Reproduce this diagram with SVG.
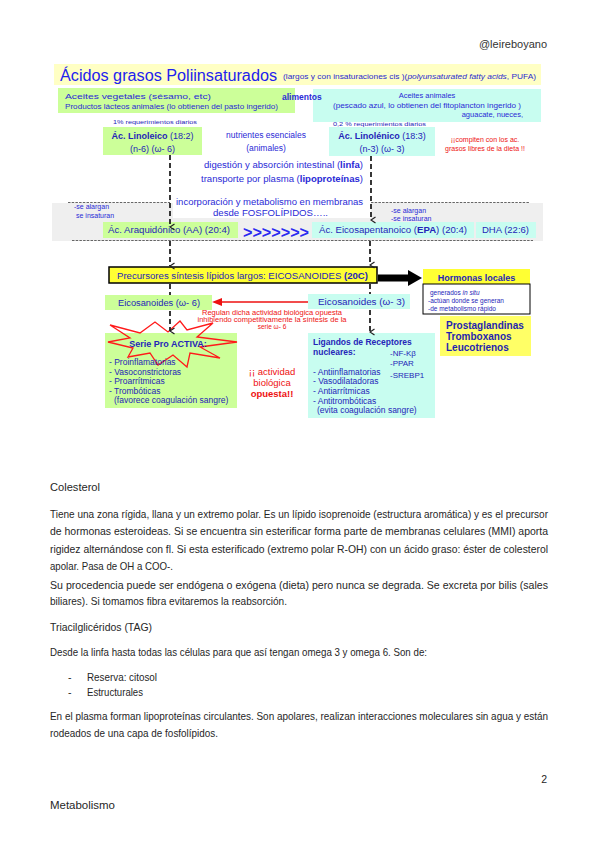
<svg xmlns="http://www.w3.org/2000/svg" width="599" height="848" viewBox="0 0 599 848">
<style>
.d{font-family:"Liberation Sans",Arial,sans-serif}
.b{fill:#2a2ad6}
.nv{fill:#2525b8}
.rd{fill:#ee1111}
.g{fill:#ccff99}
.c{fill:#c8fdf0}
.y{fill:#ffff33}
.doc{font-family:"Liberation Sans",Arial,sans-serif;fill:#262626;font-size:10.5px}
.bold{font-weight:bold}
.vd{stroke:#222;stroke-width:1.8;stroke-dasharray:5,3;fill:none}
.hd{stroke:#666;stroke-width:1;stroke-dasharray:2.5,1.2;fill:none}
</style>
<defs>
<marker id="v" viewBox="0 0 10 8" refX="5" refY="7" markerWidth="8" markerHeight="6" markerUnits="userSpaceOnUse" orient="auto-start-reverse">
<path d="M1,1 L5,7 L9,1" fill="none" stroke="#222" stroke-width="1.6"/>
</marker>
</defs>
<rect width="599" height="848" fill="#fff"/>

<text class="d" x="547" y="48" font-size="11" fill="#333" text-anchor="end">@leireboyano</text>

<g id="title">
<rect x="54" y="64" width="487" height="21" fill="#ffffc4"/>
<text class="d" x="60" y="81" font-size="16" fill="#2222ee" textLength="217" lengthAdjust="spacingAndGlyphs">Ácidos grasos Poliinsaturados</text>
<text class="d" x="283" y="79" font-size="7" fill="#2a2ad0" textLength="253" lengthAdjust="spacingAndGlyphs">(largos y con insaturaciones cis )(<tspan font-style="italic">polyunsaturated fatty acids</tspan>, PUFA)</text>
</g>

<g id="gray-band">
<rect x="52" y="203" width="491" height="38" fill="#efefef"/>
<rect x="173" y="190" width="198" height="28" fill="#ffffff"/>
</g>

<g id="veg">
<rect class="g" x="58" y="88" width="237" height="25"/>
<text class="d b" x="65" y="98.5" font-size="7.5" textLength="146" lengthAdjust="spacingAndGlyphs">Aceites vegetales (sésamo, etc)</text>
<text class="d b" x="65" y="108.5" font-size="7.5" textLength="213" lengthAdjust="spacingAndGlyphs">Productos lácteos animales (lo obtienen del pasto ingerido)</text>
</g>

<g id="animal">
<rect class="c" x="313" y="89" width="228" height="33"/>
<text class="d b" x="427" y="97.5" font-size="7.5" text-anchor="middle">Aceites animales</text>
<text class="d b" x="427" y="107.5" font-size="7.5" text-anchor="middle" textLength="188" lengthAdjust="spacingAndGlyphs">(pescado azul, lo obtienen del fitoplancton ingerido )</text>
<text class="d b" x="523" y="116.5" font-size="7.5" text-anchor="end">aguacate, nueces,</text>
</g>

<text class="d bold b" x="282" y="100" font-size="8.5">alimentos</text>

<text class="d nv" x="113" y="123.5" font-size="6" textLength="84" lengthAdjust="spacingAndGlyphs">1% requerimientos diarios</text>
<text class="d nv" x="333" y="125.5" font-size="6" textLength="93" lengthAdjust="spacingAndGlyphs">0,2 % requerimientos diarios</text>

<g id="linoleico">
<rect class="g" x="103" y="127" width="99" height="28"/>
<text class="d nv" x="152.5" y="138.5" font-size="9" text-anchor="middle"><tspan class="bold">Ác. Linoleico</tspan> (18:2)</text>
<text class="d nv" x="152.5" y="151.5" font-size="9" text-anchor="middle">(n-6) (ω- 6)</text>
</g>

<g id="nutrientes">
<text class="d b" x="266" y="138" font-size="8.5" text-anchor="middle">nutrientes esenciales</text>
<text class="d b" x="266" y="151" font-size="8.5" text-anchor="middle">(animales)</text>
</g>

<g id="linolenico">
<rect class="c" x="329" y="127" width="106" height="29"/>
<text class="d nv" x="382" y="138.5" font-size="9" text-anchor="middle"><tspan class="bold">Ác. Linolénico</tspan> (18:3)</text>
<text class="d nv" x="382" y="151.5" font-size="9" text-anchor="middle">(n-3) (ω- 3)</text>
</g>

<g id="compiten">
<text class="d rd" x="485" y="142" font-size="7" text-anchor="middle">¡¡compiten con los ac.</text>
<text class="d rd" x="485" y="150.5" font-size="7" text-anchor="middle">grasos libres de la dieta !!</text>
</g>

<g id="digestion">
<text class="d b" x="204" y="168" font-size="8.5" textLength="159" lengthAdjust="spacingAndGlyphs">digestión y absorción intestinal (<tspan class="bold">linfa</tspan>)</text>
<text class="d b" x="201" y="182" font-size="8.5" textLength="162" lengthAdjust="spacingAndGlyphs">transporte por plasma (<tspan class="bold">lipoproteínas</tspan>)</text>
</g>

<g id="incorporacion">
<text class="d b" x="176" y="205" font-size="8.5" textLength="187" lengthAdjust="spacingAndGlyphs">incorporación y metabolismo en membranas</text>
<text class="d b" x="213" y="216" font-size="8.5" textLength="115" lengthAdjust="spacingAndGlyphs">desde FOSFOLÍPIDOS…..</text>
</g>

<g id="alargan-left">
<text class="d b" x="74" y="208.5" font-size="7">-se alargan</text>
<text class="d b" x="76" y="217.5" font-size="7">se insaturan</text>
</g>
<g id="alargan-right">
<text class="d b" x="391" y="212.5" font-size="7">-se alargan</text>
<text class="d b" x="391" y="220.5" font-size="7">-se insaturan</text>
</g>

<g id="aa">
<rect class="g" x="103" y="222" width="135" height="16"/>
<text class="d nv" x="108" y="233" font-size="8.5" textLength="122" lengthAdjust="spacingAndGlyphs">Ác. Araquidónico (AA) (20:4)</text>
</g>
<text class="d bold" x="243" y="238" font-size="16" fill="#2a2af0" textLength="66" lengthAdjust="spacingAndGlyphs">&gt;&gt;&gt;&gt;&gt;&gt;&gt;</text>
<g id="epa">
<rect class="c" x="312" y="222" width="162" height="16"/>
<text class="d nv" x="319" y="233" font-size="8.5" textLength="148" lengthAdjust="spacingAndGlyphs">Ác. Eicosapentanoico (<tspan class="bold">EPA</tspan>) (20:4)</text>
</g>
<g id="dha">
<rect class="c" x="476" y="222" width="60" height="16"/>
<text class="d nv" x="482" y="233" font-size="8.5" textLength="47" lengthAdjust="spacingAndGlyphs">DHA (22:6)</text>
</g>

<g id="precursores">
<rect class="y" x="109" y="267" width="268" height="16" stroke="#000" stroke-width="1.5"/>
<text class="d nv" x="117" y="279" font-size="8.5" textLength="251" lengthAdjust="spacingAndGlyphs">Precursores síntesis lípidos largos: EICOSANOIDES <tspan class="bold">(20C)</tspan></text>
</g>

<g id="hormonas">
<rect class="y" x="423" y="269" width="107" height="15"/>
<text class="d bold nv" x="476.5" y="281" font-size="9" text-anchor="middle">Hormonas locales</text>
<rect x="423" y="284" width="107" height="30" fill="#fff" stroke="#000" stroke-width="1"/>
<text class="d nv" x="430" y="294.5" font-size="6.5">generados <tspan font-style="italic">in situ</tspan></text>
<text class="d nv" x="428" y="302.5" font-size="6.5">-actúan donde se generan</text>
<text class="d nv" x="428" y="310.5" font-size="6.5">-de metabolismo rápido</text>
</g>

<g id="prostaglandinas">
<rect x="440" y="316" width="91" height="40" fill="#ffff66"/>
<text class="d bold" x="446" y="328.5" font-size="10" fill="#1f1fb0">Prostaglandinas</text>
<text class="d bold" x="446" y="339.5" font-size="10" fill="#1f1fb0">Tromboxanos</text>
<text class="d bold" x="446" y="350.5" font-size="10" fill="#1f1fb0">Leucotrienos</text>
</g>

<g id="eico6">
<rect class="g" x="105" y="295" width="107" height="15"/>
<text class="d nv" x="118" y="305.5" font-size="8.5" textLength="82" lengthAdjust="spacingAndGlyphs">Eicosanoides  (ω- 6)</text>
</g>
<g id="eico3">
<rect class="c" x="308" y="294" width="102" height="15"/>
<text class="d nv" x="318" y="305" font-size="8.5" textLength="87" lengthAdjust="spacingAndGlyphs">Eicosanoides  (ω- 3)</text>
</g>

<g id="regulan">
<text class="d rd" x="272" y="315" font-size="6.5" text-anchor="middle" textLength="140" lengthAdjust="spacingAndGlyphs">Regulan  dicha actividad biológica opuesta</text>
<text class="d rd" x="272" y="321.6" font-size="6.5" text-anchor="middle" textLength="149" lengthAdjust="spacingAndGlyphs">inhibiendo competitivamente  la síntesis de la</text>
<text class="d rd" x="272" y="329" font-size="6.5" text-anchor="middle">serie ω- 6</text>
</g>

<g id="proactiva">
<rect class="g" x="105" y="333" width="132" height="75"/>
<polygon points="110,325 140,333 155,322 168,332 180,321 187,330 213,323 197,337 237,342 200,347 220,358 190,353 187,367 173,355 158,365 150,353 128,357 133,348 108,342 130,338" fill="none" stroke="#ff1a1a" stroke-width="1.3"/>
<text class="d bold nv" x="168" y="346.5" font-size="9" text-anchor="middle">Serie  Pro ACTIVA:</text>
<text class="d nv" x="109" y="365" font-size="8.5">- Proinflamatorias</text>
<text class="d nv" x="109" y="374.5" font-size="8.5">- Vasoconstrictoras</text>
<text class="d nv" x="109" y="384" font-size="8.5">- Proarrítmicas</text>
<text class="d nv" x="109" y="393.5" font-size="8.5">- Trombóticas</text>
<text class="d nv" x="114" y="402.5" font-size="8.5">(favorece coagulación sangre)</text>
</g>

<g id="opuesta">
<text class="d rd" x="272" y="375" font-size="9.5" text-anchor="middle">¡¡ actividad</text>
<text class="d rd" x="272" y="385.5" font-size="9.5" text-anchor="middle">biológica</text>
<text class="d bold rd" x="272" y="397" font-size="9.5" text-anchor="middle">opuesta!!</text>
</g>

<g id="ligandos">
<rect class="c" x="308" y="333" width="127" height="85"/>
<text class="d bold nv" x="313" y="345" font-size="8.5">Ligandos de Receptores</text>
<text class="d bold nv" x="313" y="355" font-size="8.5">nucleares:</text>
<text class="d nv" x="390" y="356" font-size="8">-NF-Kβ</text>
<text class="d nv" x="390" y="366" font-size="8">-PPAR</text>
<text class="d nv" x="390" y="378" font-size="8">-SREBP1</text>
<text class="d nv" x="313" y="374.5" font-size="8.5">- Antiinflamatorias</text>
<text class="d nv" x="313" y="384" font-size="8.5">- Vasodilatadoras</text>
<text class="d nv" x="313" y="394" font-size="8.5">- Antiarrítmicas</text>
<text class="d nv" x="313" y="403.5" font-size="8.5">- Antitrombóticas</text>
<text class="d nv" x="317" y="413" font-size="8.5">(evita coagulación sangre)</text>
</g>

<g id="connectors">
<path class="hd" d="M68,202.5 H170 M371,202.5 H530 M72,240.5 H533"/>
<path class="vd" d="M170,155 V227" marker-end="url(#v)"/>
<path class="vd" d="M371,156 V220" marker-end="url(#v)"/>
<path class="vd" d="M170,241 V266" marker-end="url(#v)"/>
<path class="vd" d="M370,241 V265" marker-end="url(#v)"/>
<path class="vd" d="M170,284 V295"/>
<path class="vd" d="M370,284 V294"/>
<path class="vd" d="M170,311 V331" marker-end="url(#v)"/>
<path class="vd" d="M370,310 V332" marker-end="url(#v)"/>
<polygon points="378,274.5 408,274.5 408,270 422,278 408,286 408,281.5 378,281.5" fill="#000"/>
<line x1="308" y1="302" x2="220" y2="302" stroke="#ee1111" stroke-width="1.4"/>
<polygon points="212,302 222,298 222,306" fill="#ee1111"/>
</g>

<g id="document">
<text class="doc" x="50" y="491" font-size="11.5" textLength="50" lengthAdjust="spacingAndGlyphs">Colesterol</text>
<text class="doc" x="50" y="517.5" textLength="498" lengthAdjust="spacingAndGlyphs">Tiene una zona rígida, llana y un extremo polar. Es un lípido isoprenoide (estructura aromática) y es el precursor</text>
<text class="doc" x="50" y="535" textLength="498" lengthAdjust="spacingAndGlyphs">de hormonas esteroideas. Si se encuentra sin esterificar forma parte de membranas celulares (MMI) aporta</text>
<text class="doc" x="50" y="552.5" textLength="498" lengthAdjust="spacingAndGlyphs">rigidez alternándose con fl. Si esta esterificado (extremo polar R-OH) con un ácido graso: éster de colesterol</text>
<text class="doc" x="50" y="570" textLength="123" lengthAdjust="spacingAndGlyphs">apolar. Pasa de OH a COO-.</text>
<text class="doc" x="50" y="588.5" textLength="498" lengthAdjust="spacingAndGlyphs">Su procedencia puede ser endógena o exógena (dieta) pero nunca se degrada. Se excreta por bilis (sales</text>
<text class="doc" x="50" y="604.5" textLength="237" lengthAdjust="spacingAndGlyphs">biliares). Si tomamos fibra evitaremos la reabsorción.</text>
<text class="doc" x="50" y="631" font-size="12" textLength="102" lengthAdjust="spacingAndGlyphs">Triacilglicéridos (TAG)</text>
<text class="doc" x="50" y="655.5" textLength="377" lengthAdjust="spacingAndGlyphs">Desde la linfa hasta todas las células para que así tengan omega 3 y omega 6. Son de:</text>
<text class="doc" x="68" y="680.5">-</text>
<text class="doc" x="87" y="680.5" textLength="70" lengthAdjust="spacingAndGlyphs">Reserva: citosol</text>
<text class="doc" x="68" y="695.5">-</text>
<text class="doc" x="87" y="695.5" textLength="56" lengthAdjust="spacingAndGlyphs">Estructurales</text>
<text class="doc" x="50" y="719.5" textLength="498" lengthAdjust="spacingAndGlyphs">En el plasma forman lipoproteínas circulantes. Son apolares, realizan interacciones moleculares sin agua y están</text>
<text class="doc" x="50" y="736.5" textLength="168" lengthAdjust="spacingAndGlyphs">rodeados de una capa de fosfolípidos.</text>
<text class="doc" x="547" y="783" font-size="11" text-anchor="end">2</text>
<text class="doc" x="50" y="809" font-size="11.5" textLength="65" lengthAdjust="spacingAndGlyphs">Metabolismo</text>
</g>
</svg>
